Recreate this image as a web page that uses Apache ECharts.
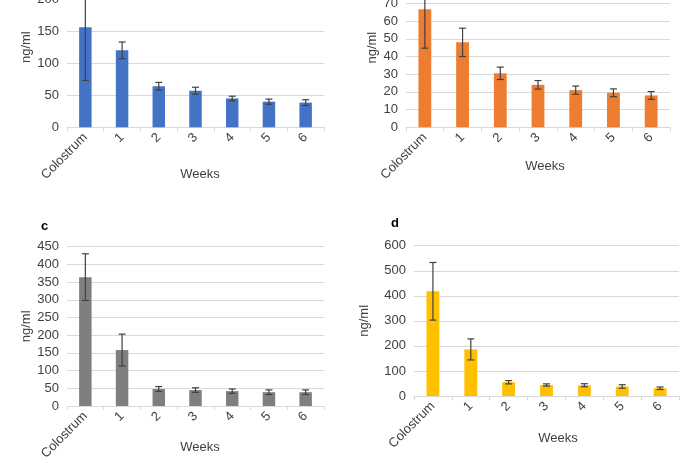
<!DOCTYPE html>
<html>
<head>
<meta charset="utf-8">
<script src="https://cdn.jsdelivr.net/npm/echarts@6/dist/echarts.min.js"></script>
<style>
  html, body { margin: 0; padding: 0; background: #fff; overflow: hidden; }
  /* the source figure is cropped at the top, so the chart starts above the window */
  #main { position: absolute; left: 0; top: -40px; width: 685px; height: 513px; }
</style>
</head>
<body>
<div id="main"></div>
<script>
const weeks = ['Colostrum', '1', '2', '3', '4', '5', '6'];

// mean and SD per panel (ng/ml)
const meanA = [156, 120, 64, 57, 45, 40, 38.5];
const sdA = [83, 13, 6, 5.5, 3.5, 4, 4.5];
const meanB = [66.7, 48, 30.5, 24, 21, 19.5, 18];
const sdB = [22, 8, 3.5, 2.4, 2.3, 2.2, 2.2];
const meanC = [364, 158, 48, 45, 42, 39, 39];
const sdC = [66, 45, 7, 6.5, 6, 6.5, 6.5];
const meanD = [418, 186, 55, 44, 43, 38, 31];
const sdD = [115, 42, 6.5, 4.5, 6, 7, 5];

const font = '"Liberation Sans", Arial, sans-serif';
const txt = '#404040';
const fs = 13;

// grid layout, axis scale and colour for each panel
const panels = [
    {mean: meanA, sd: sdA, color: '#4472C4', max: 250, step: 50,
        grid: {left: 67, top: 7, width: 257, height: 160.3}, xPad: 9, xGap: 41, yGap: 34},
    {mean: meanB, sd: sdB, color: '#ED7D31', max: 90, step: 10,
        grid: {left: 406, top: 8, width: 264, height: 159.3}, xPad: 14, xGap: 33, yGap: 27},
    {mean: meanC, sd: sdC, color: '#7F7F7F', max: 450, step: 50,
        grid: {left: 67, top: 286.7, width: 257, height: 159.3}, xPad: 9, xGap: 35, yGap: 34},
    {mean: meanD, sd: sdD, color: '#FFC000', max: 600, step: 100,
        grid: {left: 414, top: 285.7, width: 265, height: 150.3}, xPad: 23, xGap: 36, yGap: 43}
];

let grids = [], xAxes = [], yAxes = [], series = [];
panels.forEach(function (p, i) {
    grids.push(p.grid);
    xAxes.push({
        type: 'category', gridIndex: i, data: weeks,
        name: 'Weeks', nameLocation: 'middle', nameGap: p.xGap, nameMoveOverlap: false,
        nameTextStyle: {color: txt, fontSize: fs, fontFamily: font, padding: [0, 0, 0, p.xPad]},
        axisLine: {lineStyle: {color: '#D9D9D9'}},
        axisTick: {show: true, length: 4, lineStyle: {color: '#D9D9D9'}},
        axisLabel: {rotate: 45, margin: 8, color: txt, fontSize: fs, fontFamily: font}
    });
    yAxes.push({
        type: 'value', gridIndex: i, min: 0, max: p.max, interval: p.step,
        name: 'ng/ml', nameLocation: 'middle', nameGap: p.yGap, nameMoveOverlap: false,
        nameTextStyle: {color: txt, fontSize: fs, fontFamily: font},
        axisLine: {show: false}, axisTick: {show: false},
        axisLabel: {color: txt, fontSize: fs, fontFamily: font, margin: 8},
        splitLine: {lineStyle: {color: '#D9D9D9'}}
    });
    series.push({
        type: 'bar', xAxisIndex: i, yAxisIndex: i, data: p.mean,
        barWidth: '34%', itemStyle: {color: p.color}, silent: true
    });
    series.push({
        type: 'custom', xAxisIndex: i, yAxisIndex: i,
        data: p.mean.map(function (m, k) { return [k, m - p.sd[k], m + p.sd[k]]; }),
        renderItem: function (params, api) {
            const lo = api.coord([api.value(0), api.value(1)]);
            const hi = api.coord([api.value(0), api.value(2)]);
            const w = 3.5;
            const st = {stroke: '#404040', lineWidth: 1.2};
            return {
                type: 'group',
                children: [
                    {type: 'line', shape: {x1: hi[0], y1: hi[1], x2: lo[0], y2: lo[1]}, style: st},
                    {type: 'line', shape: {x1: hi[0] - w, y1: hi[1], x2: hi[0] + w, y2: hi[1]}, style: st},
                    {type: 'line', shape: {x1: lo[0] - w, y1: lo[1], x2: lo[0] + w, y2: lo[1]}, style: st}
                ]
            };
        },
        z: 5, silent: true
    });
});

const myChart = echarts.init(document.getElementById('main'));
myChart.setOption({
    backgroundColor: '#fff',
    animation: false,
    title: [
        {text: 'c', left: 36, top: 255, textStyle: {fontSize: 13, fontWeight: 'bold', color: '#000', fontFamily: font}},
        {text: 'd', left: 386, top: 252, textStyle: {fontSize: 13, fontWeight: 'bold', color: '#000', fontFamily: font}}
    ],
    grid: grids,
    xAxis: xAxes,
    yAxis: yAxes,
    series: series
});
</script>
</body>
</html>
